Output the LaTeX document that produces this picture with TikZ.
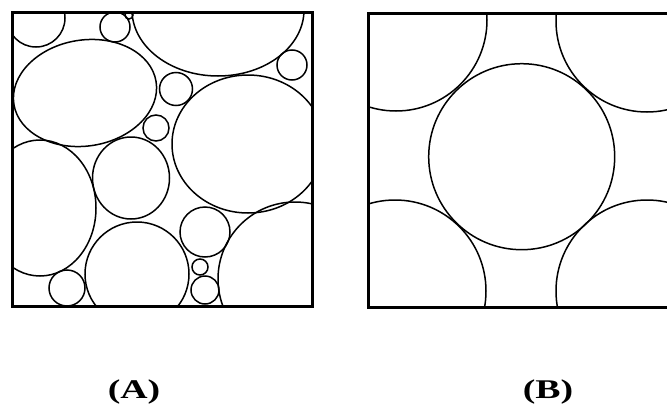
\documentclass[tikz,border=0pt]{standalone}
\usepackage{fontspec}
\setmainfont{Liberation Serif}
\tikzset{
  frame/.style = {line width=3pt},
  grain/.style = {line width=1.5pt},
  caption/.style = {font=\fontsize{27}{30}\selectfont\bfseries, xscale=1.4, anchor=base}
}
\begin{document}
\begin{tikzpicture}[x=1pt,y=-1pt]
\useasboundingbox (0,0) rectangle (667,407);
% (A) random packing
\begin{scope}
  \clip (12,12) rectangle (312,306);
  \draw[grain] (36,18) circle (29);
  \draw[grain] (115,27) circle (15);
  \draw[grain] (129,15) circle (4);
  \draw[grain] (218,10) ellipse [x radius=86, y radius=66];
  \draw[grain] (85,93) ellipse [x radius=72, y radius=53, rotate=9];
  \draw[grain] (176,89) circle (16.5);
  \draw[grain] (156,128) circle (13);
  \draw[grain] (292,65) circle (15);
  \draw[grain] (248,144) ellipse [x radius=76, y radius=69];
  \draw[grain] (131,178) ellipse [x radius=38.5, y radius=41];
  \draw[grain] (40,208) ellipse [x radius=56, y radius=68];
  \draw[grain] (67,288) circle (18);
  \draw[grain] (137,274) circle (52);
  \draw[grain] (205,232) circle (25);
  \draw[grain] (200,267) circle (8);
  \draw[grain] (205,290) circle (14);
  \draw[grain] (295,279) circle (77);
\end{scope}
\draw[frame] (12,12) rectangle (312,306);
% (B) regular packing
\begin{scope}
  \clip (368,13) rectangle (667,307);
  \draw[grain] (521.7,156.7) circle (93);
  \draw[grain] (396,20) circle (91);
  \draw[grain] (647,21) circle (91);
  \draw[grain] (395,291) circle (91);
  \draw[grain] (647,291) circle (91);
\end{scope}
\draw[frame] (670,13) -- (368,13) -- (368,307) -- (670,307);
\node[caption] (labA) at (134,398) {(A)};
\node[caption] (labB) at (548,398) {(B)};
\end{tikzpicture}
\end{document}
